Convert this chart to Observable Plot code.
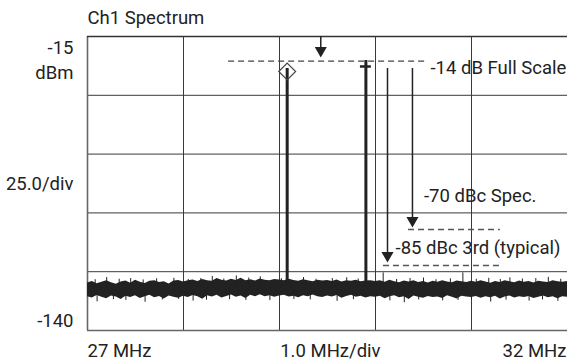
<!DOCTYPE html>
<html>
<head>
<meta charset="utf-8">
<script src="https://cdn.jsdelivr.net/npm/d3@7"></script>
<script src="https://cdn.jsdelivr.net/npm/@observablehq/plot@0.6"></script>
<style>
  html, body { margin: 0; padding: 0; background: #fff; }
  #chart svg { display: block; }
</style>
</head>
<body>
<div id="chart"></div>
<script>
// ---- data ----
const title = "Ch1 Spectrum";
const freqDomain = [27, 32];          // MHz
const levelDomain = [-140, -15];      // dBm
const gridFreqs = [28, 29, 30, 31];
const gridLevels = [-40, -65, -90, -115];

const yTickValues = [-15, -140];
const yTickLabels = ["-15", "-140"];
const yUnitLabel = "dBm";
const yDivLabel = "25.0/div";
const xTickValues = [27, 32];
const xTickLabels = ["27 MHz", "32 MHz"];
const xDivLabel = "1.0 MHz/div";

// noise floor envelope, sampled every 0.05 MHz from 27 to 32 MHz
const noiseHi = [
  -119.8,-119.2,-120.1,-119.5,-118.9,-119.7,-120.3,-119.4,-119.0,-119.9,-118.6,-119.5,-120.0,-119.1,-118.8,-119.6,-119.3,-120.2,-119.0,-118.7,
  -119.4,-118.9,-118.5,-119.2,-118.3,-118.8,-119.1,-117.9,-118.6,-119.0,-118.2,-118.7,-117.8,-118.9,-118.4,-119.0,-118.1,-118.6,-118.8,-118.3,
  -118.5,-118.9,-118.2,-118.7,-119.1,-118.4,-118.8,-119.3,-118.6,-119.0,-118.7,-119.2,-118.5,-119.4,-118.9,-119.1,-118.6,-119.3,-119.0,-118.8,
  -119.2,-118.9,-119.5,-118.6,-119.3,-119.7,-119.0,-119.4,-118.8,-119.6,-119.2,-119.8,-119.1,-119.5,-118.9,-119.4,-119.7,-119.0,-119.3,-119.6,
  -119.1,-119.5,-118.8,-119.4,-119.9,-119.2,-119.6,-118.9,-119.3,-119.7,-119.0,-119.5,-119.2,-119.8,-119.1,-119.4,-119.6,-118.9,-119.3,-119.5,-119.2
];
const noiseLo = [
  -125.6,-126.2,-125.1,-125.9,-126.5,-125.3,-125.8,-126.8,-125.4,-126.0,-125.2,-126.4,-125.7,-125.0,-126.1,-125.5,-126.6,-125.3,-125.9,-126.3,
  -125.4,-126.0,-125.1,-125.7,-126.7,-125.2,-125.8,-125.0,-126.2,-125.5,-124.9,-125.9,-125.3,-126.4,-125.0,-125.6,-124.8,-125.7,-125.2,-125.9,
  -125.3,-125.0,-125.8,-125.4,-126.1,-125.2,-125.7,-124.9,-125.6,-126.0,-125.3,-125.8,-125.1,-126.3,-125.5,-125.0,-125.9,-125.4,-126.2,-125.6,
  -125.9,-125.4,-126.5,-125.7,-125.2,-126.1,-125.6,-126.8,-125.3,-125.9,-126.3,-125.5,-126.0,-125.8,-126.4,-125.2,-125.9,-126.6,-125.4,-125.8,
  -126.0,-125.5,-126.3,-125.7,-126.1,-125.4,-126.6,-125.8,-125.3,-126.2,-125.6,-126.0,-125.5,-126.4,-125.9,-125.3,-126.1,-125.7,-126.5,-125.6,-125.9
];
// isolated noise spikes (frequency, extreme level)
const spikeFreqs  = [
  27.08, 27.2, 27.33, 27.45, 27.58, 27.72, 27.9, 28.05, 28.18, 28.3, 28.42, 28.55, 28.68, 28.8, 29.02, 29.25, 29.38, 29.55, 29.7, 29.82,
  30.08, 30.22, 30.36, 30.5, 30.63, 30.78, 30.91, 31.05, 31.18, 31.3, 31.4, 31.53, 31.67, 31.8, 31.93,
  27.1, 27.27, 27.4, 27.6, 27.78, 27.95, 28.1, 28.24, 28.48, 28.65, 28.9, 29.15, 29.32, 29.6, 29.77, 30.0, 30.15, 30.3, 30.45, 30.7,
  30.86, 31.0, 31.2, 31.36, 31.6, 31.74, 31.9
];
const spikeLevels = [
  -118.4, -117.5, -118.2, -117.9, -118.5, -118.0, -117.8, -118.3, -117.9, -117.0, -118.1, -116.8, -117.7, -117.2, -118.0, -117.5, -118.2, -117.9, -117.6, -118.1,
  -115.5, -118.3, -117.9, -117.7, -118.4, -118.0, -115.5, -118.2, -117.8, -118.3, -117.6, -118.1, -117.9, -117.4, -118.2,
  -127.8, -126.9, -127.2, -128.0, -127.0, -126.8, -127.5, -127.1, -126.9, -127.2, -127.3, -126.8, -127.0, -127.6, -126.9, -127.1, -127.4, -128.2, -127.0, -127.4,
  -127.2, -126.9, -127.9, -127.1, -127.5, -127.0, -127.6
];

// two carriers
const carrierFreqs = [29.08, 29.90];
const carrierLevels = [-28.6, -25.2];
const markerFreq = 29.08, markerLevel = -29.9;
const capFreq = 29.90, capLevel = -27.75;

// annotations
const fullScaleLevel = -25.5, fullScaleLabel = "-14 dB Full Scale";
const spec70Level = -97.1, spec70Label = "-70 dBc Spec.";
const typ85Level = -112.4, typ85Label = "-85 dBc 3rd (typical)";
const topArrowFreq = 29.43, topArrowEnd = -23.9;
const arrowFreqs = [30.125, 30.385];
const arrowStart = -28.6;
const arrowEnds = [-111.1, -96.2];

// ---- build ----
const noiseFreqs = noiseHi.map((_, i) => 27 + i * 0.05);
const noise = noiseFreqs.map((f, i) => ({f, hi: noiseHi[i], lo: noiseLo[i]}));
const spikes = spikeFreqs.map((f, i) => ({f, v: spikeLevels[i]}));
const carriers = carrierFreqs.map((f, i) => ({f, v: carrierLevels[i]}));
const arrows = arrowFreqs.map((f, i) => ({f, end: arrowEnds[i]}));

const ink = "#222";
const fs = 18.5;
const txt = {textAnchor: "start", lineAnchor: "bottom", fontSize: fs, fill: ink, text: d => d};

const plot = Plot.plot({
  width: 567,
  height: 360,
  marginLeft: 87,
  marginRight: 0,
  marginTop: 36,
  marginBottom: 30,
  x: {domain: freqDomain, axis: null},
  y: {domain: levelDomain, axis: null},
  style: {fontFamily: 'Roboto, "Liberation Sans", sans-serif', background: "#fff"},
  marks: [
    Plot.ruleX(gridFreqs, {stroke: "#3a3a3a", strokeWidth: 1}),
    Plot.ruleY(gridLevels, {stroke: "#3a3a3a", strokeWidth: 1}),
    // plot border (left, top, bottom)
    Plot.ruleX([freqDomain[0]], {stroke: "#666", strokeWidth: 1.6}),
    Plot.ruleY([levelDomain[1]], {stroke: "#333", strokeWidth: 1.4}),
    Plot.ruleY([levelDomain[0]], {stroke: "#666", strokeWidth: 1.6}),

    // noise floor
    Plot.areaY(noise, {x: "f", y1: "lo", y2: "hi", fill: ink, curve: "linear"}),
    Plot.ruleX(spikes, {x: "f", y1: -122, y2: "v", stroke: ink, strokeWidth: 1}),

    // carriers
    Plot.ruleX(carriers, {x: "f", y1: -121, y2: "v", stroke: ink, strokeWidth: 3}),
    Plot.ruleY([capLevel], {x1: capFreq - 0.057, x2: capFreq + 0.057, stroke: ink, strokeWidth: 2.5}),
    Plot.dot([{f: markerFreq, v: markerLevel}], {x: "f", y: "v", symbol: "diamond2", r: 7.6, stroke: "#444", strokeWidth: 1.2, fill: "none"}),

    // dashed reference levels
    Plot.ruleY([fullScaleLevel], {x1: 28.47, x2: 30.55, stroke: "#444", strokeWidth: 1.3, strokeDasharray: "6,4"}),
    Plot.ruleY([spec70Level], {x1: 30.344, x2: 31.30, stroke: "#555", strokeWidth: 1.5, strokeDasharray: "6,4"}),
    Plot.ruleY([typ85Level], {x1: 30.083, x2: 31.33, stroke: "#555", strokeWidth: 1.5, strokeDasharray: "6,4"}),

    // arrows
    Plot.ruleX([topArrowFreq], {y1: levelDomain[1], y2: topArrowEnd + 3, stroke: ink, strokeWidth: 1.5}),
    Plot.dot([topArrowFreq], {x: d => d, y: topArrowEnd, dy: -7, symbol: "triangle", rotate: 180, r: 4.5, fill: ink, stroke: "none"}),
    Plot.ruleX(arrows, {x: "f", y1: arrowStart, y2: d => d.end + 3, stroke: ink, strokeWidth: 1.5}),
    Plot.dot(arrows, {x: "f", y: "end", dy: -7, symbol: "triangle", rotate: 180, r: 4.5, fill: ink, stroke: "none"}),

    // annotation labels
    Plot.text([fullScaleLabel], {...txt, x: 30.573, y: fullScaleLevel, dy: 12.6}),
    Plot.text([spec70Label], {...txt, x: 31.677, y: spec70Level, dy: -28, textAnchor: "end"}),
    Plot.text([typ85Label], {...txt, x: 31.927, y: typ85Level, dy: -12, textAnchor: "end"}),

    // title
    Plot.text([title], {...txt, x: freqDomain[0], y: levelDomain[1], dy: -13}),

    // y labels
    Plot.text([yTickLabels[0]], {...txt, x: freqDomain[0], y: yTickValues[0], dx: -14, dy: 17, textAnchor: "end"}),
    Plot.text([yUnitLabel], {...txt, x: freqDomain[0], y: yTickValues[0], dx: -14, dy: 42, textAnchor: "end"}),
    Plot.text([yDivLabel], {...txt, x: freqDomain[0], y: -77.5, dx: -14, dy: 6, textAnchor: "end"}),
    Plot.text([yTickLabels[1]], {...txt, x: freqDomain[0], y: yTickValues[1], dx: -14, dy: -4, textAnchor: "end"}),

    // x labels
    Plot.text([xTickLabels[0]], {...txt, x: xTickValues[0], y: levelDomain[0], dy: 26}),
    Plot.text([xTickLabels[1]], {...txt, x: xTickValues[1], y: levelDomain[0], dx: -1, dy: 26, textAnchor: "end"}),
    Plot.text([xDivLabel], {...txt, x: 29.53, y: levelDomain[0], dy: 26, textAnchor: "middle"})
  ]
});
document.getElementById("chart").appendChild(plot);
</script>
</body>
</html>
